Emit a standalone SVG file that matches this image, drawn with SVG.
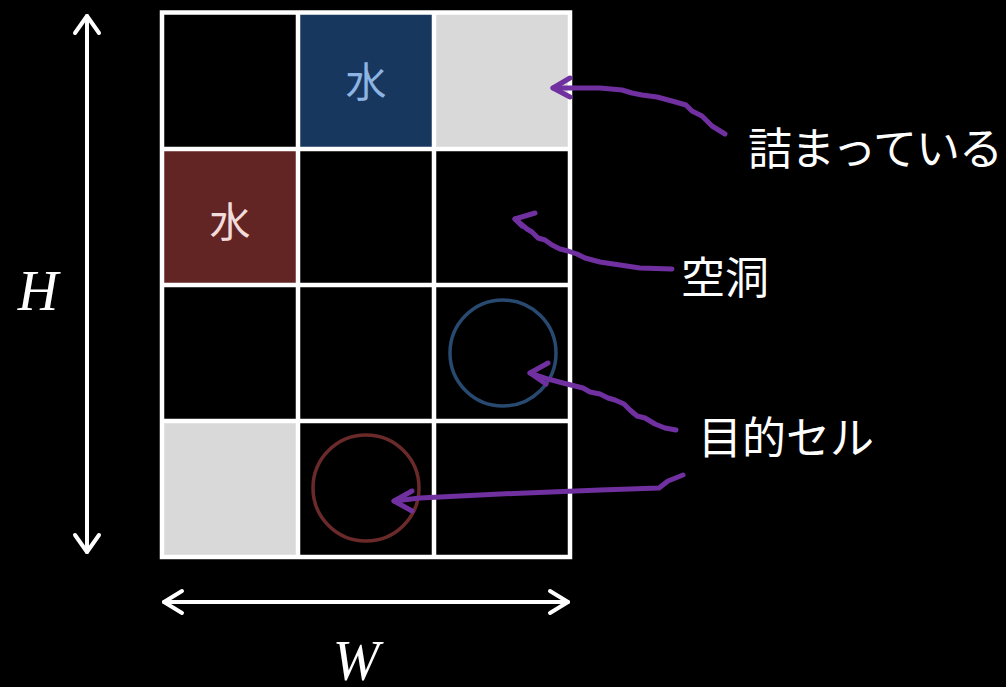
<svg xmlns="http://www.w3.org/2000/svg" width="1006" height="687" viewBox="0 0 1006 687">
<style>
.grid{stroke:#fff;stroke-width:4.5;fill:none}
.dim{stroke:#fff;stroke-width:4;fill:none;stroke-linecap:round;stroke-linejoin:round}
.pa{stroke:#7030a0;stroke-width:5;fill:none;stroke-linecap:round;stroke-linejoin:round}
.lbl{font-family:"Noto Sans CJK JP","Noto Sans",sans-serif;font-size:44px;fill:#fff}
.cell{font-family:"Noto Sans CJK JP",sans-serif;font-size:41px;text-anchor:middle}
.var{font-family:"Liberation Serif",serif;font-style:italic;fill:#fff;text-anchor:middle}
</style>
<rect width="1006" height="687" fill="#000"/>
<g id="cells">
<rect x="298" y="12.5" width="136" height="136.5" fill="#17375e"/>
<rect x="434" y="12.5" width="136" height="136.5" fill="#d9d9d9"/>
<rect x="162" y="149" width="136" height="136" fill="#632523"/>
<rect x="162" y="421" width="136" height="136" fill="#d9d9d9"/>
<text class="cell" x="366" y="97" fill="#8eb4e3">水</text>
<text class="cell" x="230" y="237" fill="#f2dcdb">水</text>
</g>
<g id="grid">
<rect class="grid" x="162" y="12.5" width="408" height="544.5"/>
<line class="grid" x1="298" y1="12.5" x2="298" y2="557"/>
<line class="grid" x1="434" y1="12.5" x2="434" y2="557"/>
<line class="grid" x1="162" y1="149" x2="570" y2="149"/>
<line class="grid" x1="162" y1="285" x2="570" y2="285"/>
<line class="grid" x1="162" y1="421" x2="570" y2="421"/>
</g>
<g id="targets">
<circle cx="503" cy="353" r="53" fill="none" stroke="#284a70" stroke-width="3.5"/>
<circle cx="366" cy="488" r="53" fill="none" stroke="#6b2a2a" stroke-width="3.5"/>
</g>
<g id="dimensions">
<line class="dim" x1="87" y1="16" x2="87" y2="552"/>
<polyline class="dim" points="75,33 87,16 99,33"/>
<polyline class="dim" points="75,535 87,552 99,535"/>
<line class="dim" x1="164" y1="602" x2="568" y2="602"/>
<polyline class="dim" points="182,591 164,602 182,613"/>
<polyline class="dim" points="550,591 568,602 550,613"/>
<text id="H" class="var" x="38" y="310" font-size="56">H</text>
<text id="W" class="var" x="356" y="680" font-size="56">W</text>
</g>
<g id="connectors">
<polyline class="pa" points="725,134 712,126 702,116 692,111 686,105 672,101 657,97 642,95 632,93 622,90 600,88 570,88 553,88"/>
<polyline class="pa" points="570,78 553,88 570,97"/>
<polyline class="pa" points="672,269 640,268 620,265 600,262 585,258 577,254 568,251 560,249 552,245 545,240 538,238 532,232 527,229 515,219"/>
<polyline class="pa" points="535,213 515,219 522,226"/>
<polyline class="pa" points="676,430 665,428 655,424 645,418 637,416 630,410 624,404 615,400 608,398 600,394 590,392 583,388 575,386 563,383 548,379 530,373"/>
<polyline class="pa" points="548,363 530,373 546,384"/>
<polyline class="pa" points="683,475 668,481 659,488 600,490 500,494 420,498 394,501"/>
<polyline class="pa" points="412,491 394,501 412,511"/>
</g>
<g id="labels">
<text id="l1" class="lbl" x="748" y="165" letter-spacing="-1">詰まっている</text>
<text id="l2" class="lbl" x="681" y="294">空洞</text>
<text id="l3" class="lbl" x="698" y="454">目的セル</text>
</g>
</svg>
